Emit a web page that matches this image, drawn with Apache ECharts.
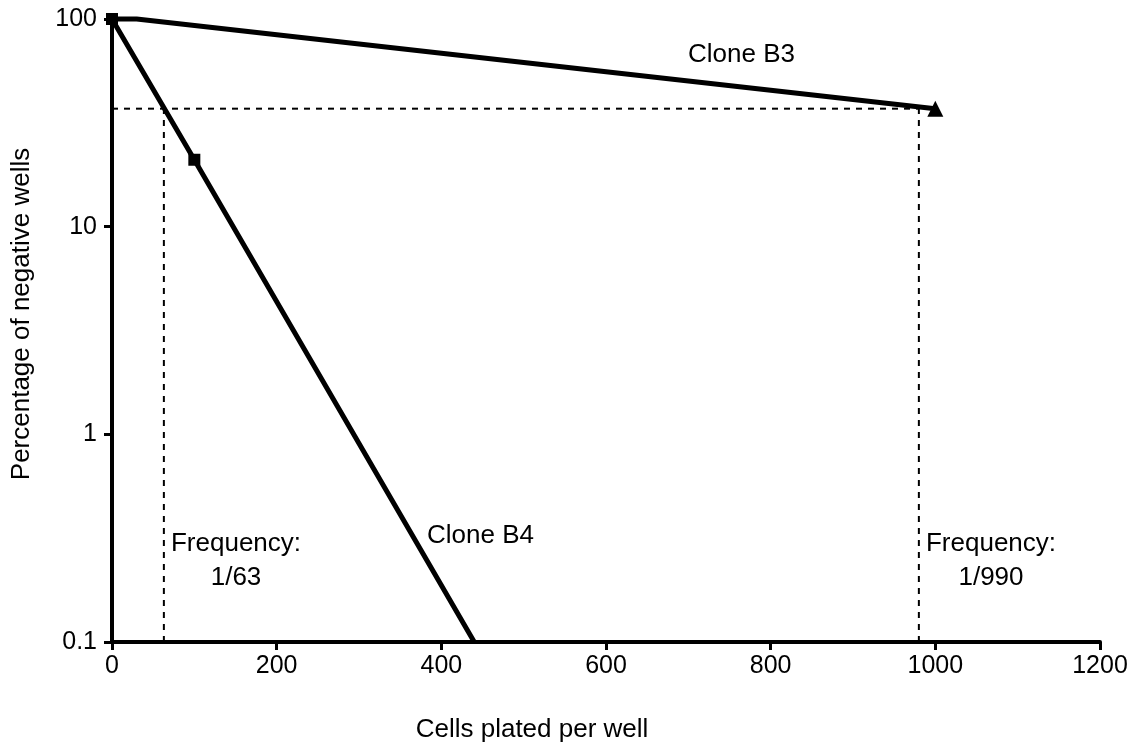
<!DOCTYPE html>
<html>
<head>
<meta charset="utf-8">
<script src="https://cdn.jsdelivr.net/npm/echarts@6/dist/echarts.min.js"></script>
<style>
html, body { margin: 0; padding: 0; background: #fff; }
#chart { width: 1139px; height: 753px; }
</style>
</head>
<body>
<div id="chart"></div>
<script>
// limiting dilution data
const b3Cells = [0, 30, 1000];
const b3Neg = [100, 100, 37];
const b4Cells = [0, 100, 440];
const b4Neg = [100, 21, 0.1];

// 37% negative wells cutoff and the resulting frequencies
const cutoff = 37;
const b4Freq = 63;
const b3Freq = 980;

const pairs = (xs, ys) => xs.map((x, i) => [x, ys[i]]);

const FONT = '"Liberation Sans", Arial, sans-serif';
const TXT = '26px ' + FONT;
const chart = echarts.init(document.getElementById('chart'));

// only mark the measured points (not the flat start of B3)
const b3Symbols = ['rect', 'none', 'triangle'];
const b4Symbols = ['rect', 'rect', 'none'];

const dashStyle = { color: '#000', width: 2, type: [6, 6] };

// plain text helper for the annotations
function label(text, x, y, align) {
    return {
        type: 'text', x: x, y: y,
        style: { text: text, font: TXT, fill: '#000', align: align || 'left', verticalAlign: 'middle' }
    };
}

chart.setOption({
    animation: false,
    grid: { left: 112, right: 39, top: 19, bottom: 111 },
    xAxis: {
        type: 'value',
        min: 0, max: 1200, interval: 200,
        axisLine: { lineStyle: { color: '#000', width: 4 } },
        axisTick: { lineStyle: { color: '#000', width: 3 }, length: 8 },
        axisLabel: { color: '#000', fontSize: 25, fontFamily: FONT, margin: 12,
            formatter: v => String(v) },
        splitLine: { show: false }
    },
    yAxis: {
        type: 'log',
        logBase: 10,
        min: 0.1, max: 100,
        axisLine: { lineStyle: { color: '#000', width: 4 } },
        axisTick: { lineStyle: { color: '#000', width: 3 }, length: 8 },
        axisLabel: { color: '#000', fontSize: 25, fontFamily: FONT, margin: 15,
            formatter: v => String(+v.toPrecision(3)) },
        splitLine: { show: false }
    },
    series: [
        {
            name: 'cutoff', type: 'line', silent: true,
            data: [[0, cutoff], [b3Freq, cutoff]],
            symbol: 'none', lineStyle: dashStyle
        },
        {
            name: 'B4 freq', type: 'line', silent: true,
            data: [[b4Freq, 0.1], [b4Freq, cutoff]],
            symbol: 'none', lineStyle: dashStyle
        },
        {
            name: 'B3 freq', type: 'line', silent: true,
            data: [[b3Freq, 0.1], [b3Freq, cutoff]],
            symbol: 'none', lineStyle: dashStyle
        },
        {
            name: 'Clone B3', type: 'line', clip: false,
            data: pairs(b3Cells, b3Neg).map((p, i) => ({
                value: p, symbol: b3Symbols[i], symbolSize: b3Symbols[i] === 'triangle' ? 16 : 12
            })),
            lineStyle: { color: '#000', width: 5 },
            itemStyle: { color: '#000' }
        },
        {
            name: 'Clone B4', type: 'line', clip: false,
            data: pairs(b4Cells, b4Neg).map((p, i) => ({
                value: p, symbol: b4Symbols[i], symbolSize: 12
            })),
            lineStyle: { color: '#000', width: 5 },
            itemStyle: { color: '#000' }
        }
    ],
    graphic: [
        label('Clone B3', 688, 55),
        label('Clone B4', 427, 536),
        label('Frequency:', 236, 544, 'center'),
        label('1/63', 236, 578, 'center'),
        label('Frequency:', 991, 544, 'center'),
        label('1/990', 991, 578, 'center'),
        label('Cells plated per well', 532, 730, 'center'),
        {
            type: 'text', x: 22, y: 314, rotation: Math.PI / 2,
            style: { text: 'Percentage of negative wells', font: TXT, fill: '#000',
                     align: 'center', verticalAlign: 'middle' }
        }
    ]
});
</script>
</body>
</html>
